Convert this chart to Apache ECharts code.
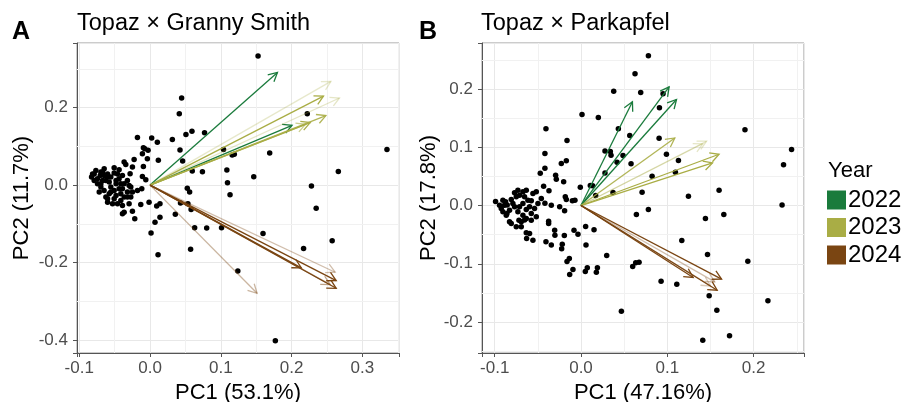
<!DOCTYPE html>
<html>
<head>
<meta charset="utf-8">
<script src="https://cdn.jsdelivr.net/npm/echarts@6/dist/echarts.min.js"></script>
<style>html,body{margin:0;padding:0;background:#fff}#c{width:914px;height:402px}</style>
</head>
<body>
<div id="c"></div>
<script>
// ---------- DATA ----------
const years = ['2022', '2023', '2024'];

const pointsA = [
[0.1526,0.3336],[0.0446,0.225],[0.0413,0.1845],[0.2221,0.1845],[0.3347,0.0922],
[-0.0178,0.123],[0.0023,0.1216],[0.0103,0.111],[0.0315,0.118],[0.0507,0.131],[0.0592,0.139],[0.077,0.135],
[0.1038,0.092],[0.0423,0.0905],[0.046,0.062],[0.169,0.0828],[0.116,0.078],[0.119,0.080],
[0.1085,0.0388],[0.0596,0.0362],[0.074,0.0345],[0.1465,0.0216],[0.266,0.0353],[0.1094,0.006],[0.228,-0.0026],
[0.113,-0.025],[0.0526,-0.0078],[0.0559,-0.018],[0.043,-0.046],[0.0535,-0.048],[0.058,-0.063],[0.2347,-0.0595],
[0.0357,-0.075],[0.014,-0.083],[0.007,-0.0957],[-0.0014,-0.044],[0.0094,-0.054],[0.014,-0.048],
[0.063,-0.110],[0.080,-0.111],[0.101,-0.110],[0.1596,-0.125],[0.0014,-0.124],[0.0573,-0.1655],[0.0113,-0.180],
[0.2169,-0.1638],[0.2573,-0.144],[0.124,-0.2216],[0.177,-0.4017],
[-0.0108,0.081],[-0.0075,0.094],[-0.0028,0.0897],[-0.0094,0.0966],[-0.0038,0.068],[0.0117,0.064],[-0.0225,0.0664],
[-0.0249,0.0466],[-0.0343,0.0534],[-0.0366,0.0595],[-0.0094,0.0483],[-0.0282,0.0293],[-0.0437,0.0397],[-0.0507,0.0448],
[-0.0648,0.0422],[-0.0765,0.038],[-0.0812,0.029],[-0.0826,0.0207],[-0.0789,0.012],[-0.0704,0.025],[-0.067,0.012],
[-0.060,0.029],[-0.0554,0.0207],[-0.0507,0.031],[-0.039,0.025],[-0.0108,0.0224],[-0.006,0.0138],[-0.0117,-0.0095],
[-0.0742,0.0034],[-0.0695,-0.005],[-0.065,-0.0138],[-0.0718,-0.018],[-0.0577,-0.0224],[-0.0624,-0.031],[-0.0507,-0.0353],
[-0.046,-0.0483],[-0.053,-0.0483],[-0.0413,-0.0224],[-0.0366,-0.031],[-0.032,-0.018],[-0.0272,-0.031],[-0.0296,-0.0483],
[-0.039,-0.074],[-0.0366,-0.0698],[-0.0249,-0.0672],[-0.0216,-0.087],[-0.0131,-0.05],[-0.0554,-0.005],[-0.048,0.0034],
[-0.0437,-0.0095],[-0.0366,0.0034],[-0.032,0.012],[-0.0272,-0.005],[-0.0624,0.012],[-0.0577,0.0078],[-0.0437,0.0164],
[-0.0695,0.0336],[-0.0507,-0.0138],[-0.0413,-0.0397],[-0.060,-0.044],[-0.0742,0.0164],[-0.046,0.029],[-0.0296,-0.0009],
[-0.0178,-0.0138],[-0.0789,0.029],[-0.067,0.0336],[-0.06,0.0207],[-0.048,0.012],[-0.0413,0.0034],[-0.0554,-0.018],
[-0.048,-0.0267],[-0.06,-0.0353],[-0.039,-0.0526],[-0.032,-0.031],[-0.0249,-0.018],[-0.0695,0.0034],[-0.0648,0.025],
[-0.039,-0.0095]
];

const pointsB = [
[0.0781,0.257],[0.0626,0.226],[0.0379,0.196],[0.0692,0.194],[0.0951,0.192],[0.0909,0.1677],[0.0012,0.1562],[0.0201,0.151],
[-0.0406,0.1316],[0.0433,0.1316],[0.190,0.130],[-0.0162,0.1116],[0.0565,0.120],[0.0905,0.1156],[0.244,0.096],[0.0278,0.0938],
[0.034,0.0927],[0.0348,0.0864],[0.0487,0.0858],[0.099,0.088],[-0.0418,0.0893],[0.1129,0.0773],[-0.017,0.0767],[-0.0228,0.0721],
[0.0418,0.0744],[0.058,0.0715],[0.2347,0.0698],[-0.0418,0.064],[-0.0472,0.0555],[0.0278,0.056],[0.0824,0.0504],[0.1094,0.0572],
[-0.0294,0.052],[-0.0286,0.0452],[-0.0201,0.0406],[-0.0433,0.0332],[0.0108,0.0343],[0.0135,0.0338],[-0.0008,0.0315],[0.0371,0.0223],
[0.0708,0.0229],[0.017,0.0172],[0.1245,0.016],[0.160,0.0263],[0.233,0.001],[-0.0518,0.0235],[-0.0371,0.0252],[-0.046,0.012],
[-0.0418,0.004],[-0.0344,0.0006],[-0.0247,-0.0023],[-0.0182,0.0149],[-0.017,0.0103],[-0.01,0.008],[-0.007,0.0092],[-0.019,-0.0092],
[0.0781,-0.0069],[0.0642,-0.0155],[0.1442,-0.0223],[0.1655,-0.0155],[0.0054,-0.036],[0.0151,-0.0418],[-0.0375,-0.0269],[-0.0375,-0.031],
[-0.0305,-0.0423],[-0.0302,-0.051],[-0.0193,-0.0515],[-0.0406,-0.0624],[-0.0344,-0.068],[-0.0217,-0.0664],[-0.0224,-0.0744],[-0.0081,-0.0423],
[-0.0035,-0.0492],[0.0058,-0.068],[0.1168,-0.060],[0.0298,-0.0858],[0.1466,-0.0841],[0.1933,-0.0956],[-0.0162,-0.0961],[-0.0135,-0.091],
[-0.0093,-0.1099],[-0.0131,-0.1185],[0.005,-0.1133],[0.0073,-0.107],[0.0178,-0.1144],[0.019,-0.107],[0.0599,-0.1047],[0.0634,-0.0984],
[0.0673,-0.0973],[0.0928,-0.1299],[0.111,-0.135],[0.1485,-0.155],[0.1574,-0.1797],[0.2166,-0.1637],[0.0468,-0.1814],[0.1411,-0.2312],
[0.1721,-0.2237],
[-0.099,0.0069],[-0.0944,0.0006],[-0.0924,-0.005],[-0.0886,0.0006],[-0.0874,0.0063],[-0.0905,-0.0109],[-0.0858,-0.0137],[-0.0828,-0.008],
[-0.0808,0.0103],[-0.0789,0.0034],[-0.075,0.0149],[-0.0731,0.0263],[-0.0712,0.0177],[-0.0673,0.0235],[-0.0654,0.0149],[-0.0634,0.0263],
[-0.0615,0.0092],[-0.0673,0.0034],[-0.0712,-0.0023],[-0.077,-0.0023],[-0.0731,-0.0109],[-0.0673,-0.0166],[-0.0634,-0.0069],[-0.0596,-0.0023],
[-0.0576,-0.0137],[-0.0538,-0.0052],[-0.0499,0.0034],[-0.0518,-0.0195],[-0.0576,-0.0252],[-0.0634,-0.0223],[-0.0719,-0.0252],[-0.0808,-0.0309],
[-0.075,-0.0366],[-0.0692,-0.0366],[-0.0828,-0.028],[-0.0866,-0.0166],[-0.0634,-0.0469],[-0.0596,-0.048],[-0.063,-0.0567],[-0.0557,-0.0595],
[-0.0692,-0.028],[-0.0654,-0.025],[-0.0855,0.001],[-0.077,0.0217],[-0.0905,0.009],[-0.0576,0.008],[-0.0557,0.0206]
];

// loading arrows (tips), origin at (0,0)
const arrowsA2022 = [[0.180,0.291],[0.2006,0.1545]];
const arrowsA2023 = [[0.2555,0.268],[0.245,0.230],[0.2676,0.225],[0.2484,0.1795],[0.2263,0.1614],[0.2195,0.157]];
const arrowsA2024 = [[0.1512,-0.2794],[0.2137,-0.2137],[0.263,-0.2466],[0.263,-0.2665],[0.2615,-0.225],[0.2545,-0.257]];
const arrowsB2022 = [[0.0596,0.178],[0.1021,0.2036],[0.1107,0.182]];
const arrowsB2023 = [[0.1087,0.116],[0.1455,0.1104],[0.141,0.106],[0.160,0.088],[0.1524,0.0732]];
const arrowsB2024 = [[0.1629,-0.1265],[0.1578,-0.1454],[0.130,-0.1236],[0.155,-0.131],[0.150,-0.138]];

const titleA = 'Topaz × Granny Smith';
const titleB = 'Topaz × Parkapfel';
const xNameA = 'PC1 (53.1%)', yNameA = 'PC2 (11.7%)';
const xNameB = 'PC1 (47.16%)', yNameB = 'PC2 (17.8%)';

// minor grid positions
const minorXA = [-0.05,0.05,0.15,0.25,0.35];
const minorYA = [-0.3,-0.1,0.1,0.3];
const minorXB = [-0.05,0.05,0.15,0.25];
const minorYB = [-0.25,-0.15,-0.05,0.05,0.15,0.25];

// ---------- STYLE ----------
const colors = {'2022':'#1a7b3c','2023':'#a9ad45','2024':'#7a4512'};
const alphaA = {'2022':[1,1],'2023':[0.28,1,0.3,0.9,1,0.6],'2024':[0.4,1,1,1,0.35,0.5]};
const alphaB = {'2022':[1,1,1],'2023':[0.9,0.3,0.3,1,1],'2024':[1,1,1,0.35,0.3]};
const FONT = 'Liberation Sans, Arial, sans-serif';

function fmt(v){ return Math.abs(v*10 - Math.round(v*10)) < 1e-6 ? (Math.round(v*10)/10).toFixed(1) : ''; }

function axis(gi, min, max, name, gap, isY){
  return {
    type:'value', gridIndex:gi, min:min, max:max, splitNumber:5,
    name:name, nameLocation:'middle', nameGap:gap,
    nameTextStyle:{fontSize:22,color:'#000',fontFamily:FONT},
    axisLine:{show:true,onZero:false,lineStyle:{color:'#555',width:1}},
    axisTick:{show:true,length:4,lineStyle:{color:'#555'}},
    axisLabel:{fontSize:17,color:'#4d4d4d',fontFamily:FONT,formatter:fmt,margin:isY?9:7,hideOverlap:false},
    splitLine:{show:true,lineStyle:{color:'#e8e8e8',width:1}}
  };
}

function arrowRender(color, alphas){
  return function(params, api){
    const o = api.coord([0,0]);
    const t = api.coord([api.value(0), api.value(1)]);
    const ang = Math.atan2(t[1]-o[1], t[0]-o[0]);
    const L = 10, a = Math.PI/180*28;
    const p1 = [t[0]-L*Math.cos(ang-a), t[1]-L*Math.sin(ang-a)];
    const p2 = [t[0]-L*Math.cos(ang+a), t[1]-L*Math.sin(ang+a)];
    const op = alphas[params.dataIndex];
    return {type:'group', children:[
      {type:'line', shape:{x1:o[0],y1:o[1],x2:t[0],y2:t[1]}, style:{stroke:color,lineWidth:1.3,opacity:op}},
      {type:'polyline', shape:{points:[p1,t,p2]}, style:{stroke:color,fill:null,lineWidth:1.3,opacity:op}}
    ]};
  };
}

function minorLines(xs, ys){
  return {silent:true, symbol:['none','none'], z:1, label:{show:false}, animation:false,
    lineStyle:{color:'#f1f1f1',width:1,type:'solid'}, emphasis:{disabled:true},
    data: xs.map(v=>({xAxis:v})).concat(ys.map(v=>({yAxis:v})))};
}

const series = [
  {type:'scatter', name:'ptsA', xAxisIndex:0, yAxisIndex:0, data:pointsA, symbolSize:5.5, itemStyle:{color:'#000',opacity:1}, z:3, markLine:minorLines(minorXA,minorYA), silent:true},
  {type:'scatter', name:'ptsB', xAxisIndex:1, yAxisIndex:1, data:pointsB, symbolSize:5.5, itemStyle:{color:'#000',opacity:1}, z:3, markLine:minorLines(minorXB,minorYB), silent:true}
];
const arrowSets = [[0,{'2022':arrowsA2022,'2023':arrowsA2023,'2024':arrowsA2024},alphaA],[1,{'2022':arrowsB2022,'2023':arrowsB2023,'2024':arrowsB2024},alphaB]];
arrowSets.forEach(([gi, sets, alph]) => {
  years.forEach(y => {
    series.push({type:'custom', name:y, xAxisIndex:gi, yAxisIndex:gi, data:sets[y], encode:{x:0,y:1},
      itemStyle:{color:colors[y]}, renderItem:arrowRender(colors[y], alph[y]), z:4, silent:true});
  });
});

const chart = echarts.init(document.getElementById('c'), null, {renderer:'canvas'});
chart.setOption({
  animation:false,
  backgroundColor:'#fff',
  textStyle:{fontFamily:FONT},
  title:[
    {text:'A', left:12, top:20, padding:0, textStyle:{fontSize:25,fontWeight:'bold',color:'#000',fontFamily:FONT}},
    {text:titleA, left:77, top:12, padding:0, textStyle:{fontSize:23.5,fontWeight:'normal',color:'#000',fontFamily:FONT}},
    {text:'B', left:419, top:20, padding:0, textStyle:{fontSize:25,fontWeight:'bold',color:'#000',fontFamily:FONT}},
    {text:titleB, left:481, top:12, padding:0, textStyle:{fontSize:23.5,fontWeight:'normal',color:'#000',fontFamily:FONT}},
    {text:'Year', left:828, top:160, padding:0, textStyle:{fontSize:22,fontWeight:'normal',color:'#000',fontFamily:FONT}}
  ],
  legend:{data:years, orient:'vertical', left:827, top:188, icon:'rect', itemWidth:19, itemHeight:19, itemGap:3.5,
    selectedMode:false, padding:0, textStyle:{fontSize:24,color:'#000',fontFamily:FONT,padding:[2,0,0,-3]}},
  grid:[
    {left:77, top:43, width:322, height:310, show:true, borderColor:'#999', borderWidth:1, backgroundColor:'#fff', outerBoundsMode:'none', containLabel:false},
    {left:482, top:43, width:322, height:310, show:true, borderColor:'#999', borderWidth:1, backgroundColor:'#fff', outerBoundsMode:'none', containLabel:false}
  ],
  xAxis:[
    axis(0, -0.1032, 0.3517, xNameA, 24, false),
    axis(1, -0.1147, 0.2584, xNameB, 24, false)
  ],
  yAxis:[
    axis(0, -0.4336, 0.367, yNameA, 44, true),
    axis(1, -0.2532, 0.279, yNameB, 42, true)
  ],
  series:series
});
</script>
</body>
</html>
